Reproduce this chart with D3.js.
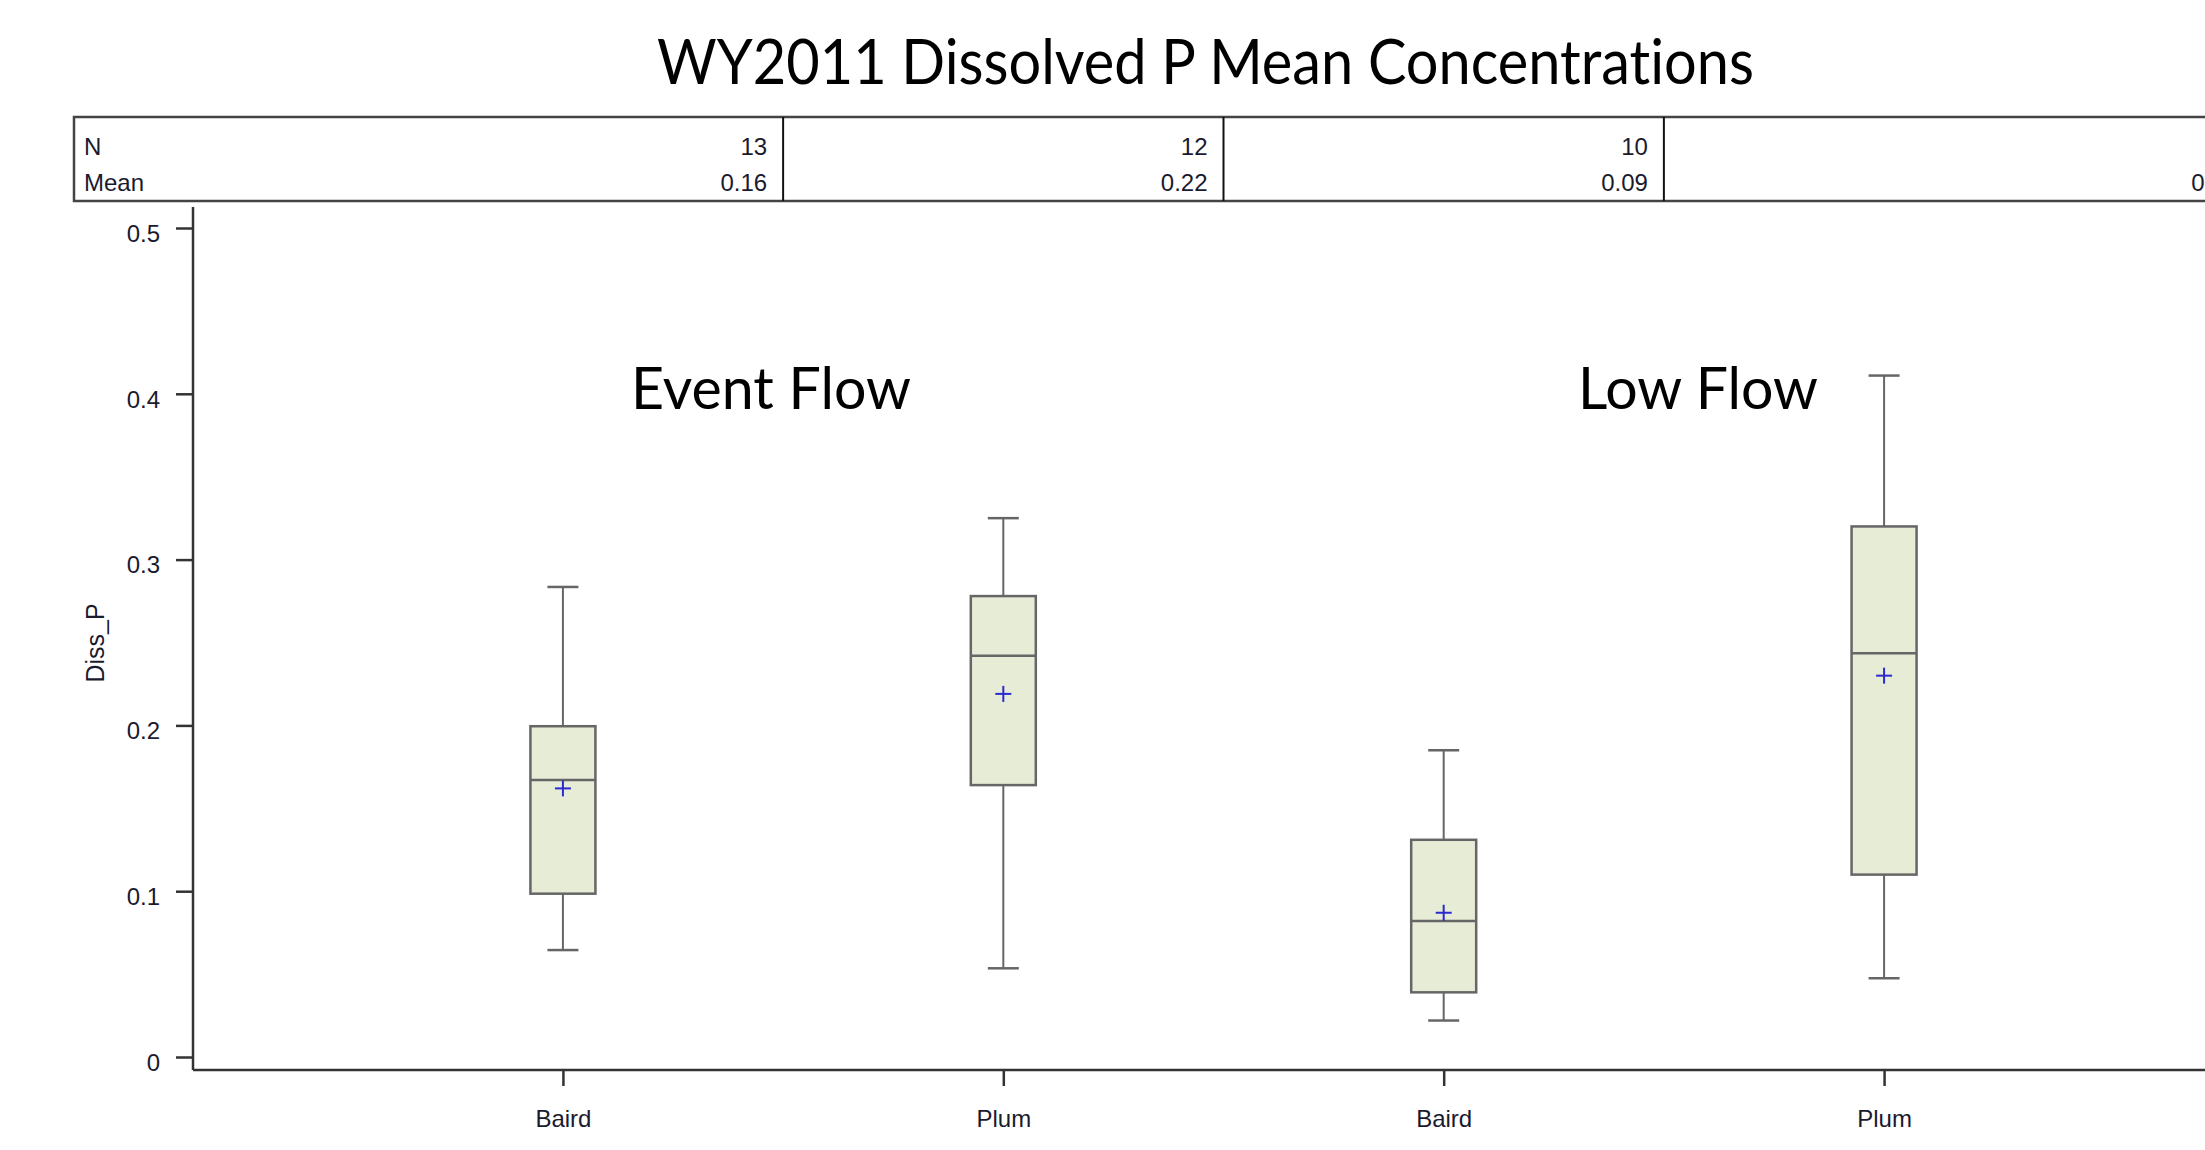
<!DOCTYPE html>
<html>
<head>
<meta charset="utf-8">
<script src="https://cdn.jsdelivr.net/npm/d3@7"></script>
<style>
  html, body { margin: 0; padding: 0; background: #fff; overflow: hidden; }
  svg { display: block; }
  text { font-variant-ligatures: none; }
</style>
</head>
<body>
<svg id="chart" width="2205" height="1150"></svg>
<script>
// ---- data ----
const categories   = ["Baird", "Plum", "Baird", "Plum"];
const groups       = ["Event Flow", "Event Flow", "Low Flow", "Low Flow"];
const whiskerLow   = [0.0645, 0.0535, 0.022, 0.0475];
const q1           = [0.0985, 0.164, 0.039, 0.110];
const median       = [0.167, 0.242, 0.082, 0.2435];
const q3           = [0.1995, 0.278, 0.131, 0.320];
const whiskerHigh  = [0.2835, 0.325, 0.185, 0.411];
const means        = [0.162, 0.219, 0.087, 0.230];
const nValues      = ["13", "12", "10", "11"];
const meanLabels   = ["0.16", "0.22", "0.09", "0.23"];
const yTicks       = [0, 0.1, 0.2, 0.3, 0.4, 0.5];
const groupLabels  = ["Event Flow", "Low Flow"];
const titleText    = "WY2011 Dissolved P Mean Concentrations";
const yLabel       = "Diss_P";

const svg = d3.select("#chart");

// layout
const plotLeft = 193, plotRight = 2254, plotTop = 207, plotBottom = 1070;
const tableLeft = 74, tableTop = 117, tableBottom = 201;

const keys = categories.map((c, i) => i);
const x = d3.scalePoint().domain(keys).range([plotLeft, plotRight]).padding(0.84);
const y = d3.scaleLinear().domain([0, 0.5]).range([1057, 228]);

const axisFont = "'Liberation Sans', Arial, sans-serif";
const titleFont = "Lato, 'Open Sans', sans-serif";
const textColor = "#1a1a2e";

// title
svg.append("text")
  .attr("x", 657).attr("y", 84)
  .attr("font-family", titleFont).attr("font-size", 62)
  .attr("textLength", 1097).attr("lengthAdjust", "spacingAndGlyphs")
  .attr("fill", "#000")
  .text(titleText);

// table
const step = x.step();
const colBounds = keys.map(i => {
  const left = i === 0 ? tableLeft : x(i) - step / 2;
  const right = i === keys.length - 1 ? plotRight : x(i) + step / 2;
  return [left, right];
});
const table = svg.append("g");
table.append("rect")
  .attr("x", tableLeft).attr("y", tableTop)
  .attr("width", plotRight - tableLeft).attr("height", tableBottom - tableTop)
  .attr("fill", "none").attr("stroke", "#444").attr("stroke-width", 2.5);
table.selectAll("line.div").data(keys.slice(1)).join("line")
  .attr("class", "div")
  .attr("x1", i => colBounds[i][0]).attr("x2", i => colBounds[i][0])
  .attr("y1", tableTop).attr("y2", tableBottom)
  .attr("stroke", "#111").attr("stroke-width", 2);
table.append("text").attr("x", 84).attr("y", 155)
  .attr("font-family", axisFont).attr("font-size", 24).attr("fill", textColor).text("N");
table.append("text").attr("x", 84).attr("y", 191)
  .attr("font-family", axisFont).attr("font-size", 24).attr("fill", textColor).text("Mean");
table.selectAll("text.n").data(keys).join("text")
  .attr("class", "n")
  .attr("x", i => colBounds[i][1] - 16).attr("y", 155)
  .attr("text-anchor", "end")
  .attr("font-family", axisFont).attr("font-size", 24).attr("fill", textColor)
  .text(i => nValues[i]);
table.selectAll("text.m").data(keys).join("text")
  .attr("class", "m")
  .attr("x", i => colBounds[i][1] - 16).attr("y", 191)
  .attr("text-anchor", "end")
  .attr("font-family", axisFont).attr("font-size", 24).attr("fill", textColor)
  .text(i => meanLabels[i]);

// y axis
const yAxisG = svg.append("g").attr("transform", `translate(${plotLeft},0)`)
  .call(d3.axisLeft(y).tickValues(yTicks).tickSize(17).tickPadding(16)
    .tickFormat(d => d === 0 ? "0" : d3.format(".1f")(d)));
yAxisG.select(".domain").remove();
yAxisG.selectAll(".tick line").attr("stroke", "#333").attr("stroke-width", 2.5);
yAxisG.selectAll(".tick text").attr("font-family", axisFont).attr("font-size", 24)
  .attr("fill", textColor).attr("dy", "0.55em");
svg.append("line").attr("x1", plotLeft).attr("x2", plotLeft)
  .attr("y1", plotTop).attr("y2", plotBottom)
  .attr("stroke", "#333").attr("stroke-width", 2.5);

// x axis
const xAxisG = svg.append("g").attr("transform", `translate(0,${plotBottom})`)
  .call(d3.axisBottom(x).tickSize(16).tickPadding(24).tickFormat(i => categories[i]));
xAxisG.select(".domain").remove();
xAxisG.selectAll(".tick line").attr("stroke", "#333").attr("stroke-width", 2.5);
xAxisG.selectAll(".tick text").attr("font-family", axisFont).attr("font-size", 24).attr("fill", textColor);
svg.append("line").attr("x1", plotLeft).attr("x2", plotRight)
  .attr("y1", plotBottom).attr("y2", plotBottom)
  .attr("stroke", "#333").attr("stroke-width", 2.5);

// y label
svg.append("text")
  .attr("transform", "translate(104,643) rotate(-90)")
  .attr("text-anchor", "middle")
  .attr("font-family", axisFont).attr("font-size", 25).attr("fill", textColor)
  .text(yLabel);

// boxes
const boxW = 65, capW = 31;
const stroke = "#666";
const boxes = svg.append("g");
keys.forEach(i => {
  const cx = x(i);
  const g = boxes.append("g");
  // whiskers
  g.append("line").attr("x1", cx).attr("x2", cx)
    .attr("y1", y(whiskerHigh[i])).attr("y2", y(q3[i]))
    .attr("stroke", stroke).attr("stroke-width", 2);
  g.append("line").attr("x1", cx).attr("x2", cx)
    .attr("y1", y(q1[i])).attr("y2", y(whiskerLow[i]))
    .attr("stroke", stroke).attr("stroke-width", 2);
  g.append("line").attr("x1", cx - capW / 2).attr("x2", cx + capW / 2)
    .attr("y1", y(whiskerHigh[i])).attr("y2", y(whiskerHigh[i]))
    .attr("stroke", stroke).attr("stroke-width", 2.5);
  g.append("line").attr("x1", cx - capW / 2).attr("x2", cx + capW / 2)
    .attr("y1", y(whiskerLow[i])).attr("y2", y(whiskerLow[i]))
    .attr("stroke", stroke).attr("stroke-width", 2.5);
  // box
  g.append("rect")
    .attr("x", cx - boxW / 2).attr("y", y(q3[i]))
    .attr("width", boxW).attr("height", y(q1[i]) - y(q3[i]))
    .attr("fill", "#e7ecd7").attr("stroke", stroke).attr("stroke-width", 2.5);
  // median
  g.append("line").attr("x1", cx - boxW / 2).attr("x2", cx + boxW / 2)
    .attr("y1", y(median[i])).attr("y2", y(median[i]))
    .attr("stroke", stroke).attr("stroke-width", 2.5);
  // mean plus
  const my = y(means[i]);
  g.append("line").attr("x1", cx - 8).attr("x2", cx + 8).attr("y1", my).attr("y2", my)
    .attr("stroke", "#2a2ad0").attr("stroke-width", 2);
  g.append("line").attr("x1", cx).attr("x2", cx).attr("y1", my - 8).attr("y2", my + 8)
    .attr("stroke", "#2a2ad0").attr("stroke-width", 2);
});

// group labels
const groupPos = [[631, 409, 280], [1578, 409, 240]];
groupLabels.forEach((t, k) => {
  svg.append("text")
    .attr("x", groupPos[k][0]).attr("y", groupPos[k][1])
    .attr("font-family", titleFont).attr("font-size", 58)
    .attr("textLength", groupPos[k][2]).attr("lengthAdjust", "spacingAndGlyphs")
    .attr("fill", "#000")
    .text(t);
});
</script>
</body>
</html>
